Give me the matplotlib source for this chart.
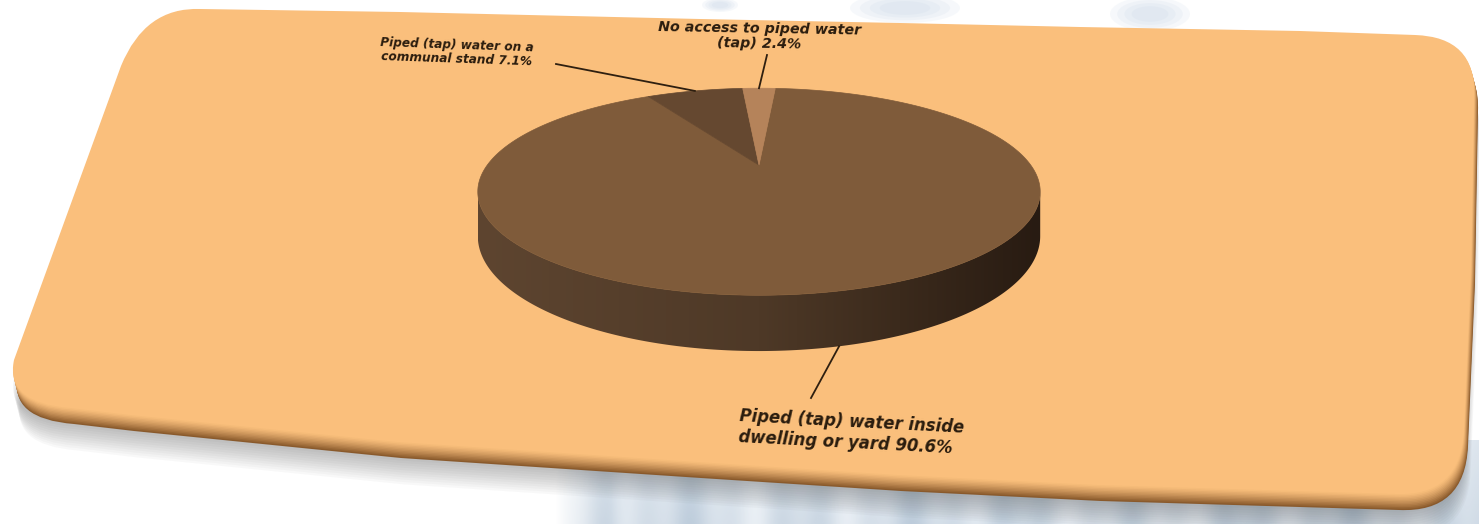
import numpy as np
import matplotlib
matplotlib.use('Agg')
import matplotlib.pyplot as plt
from matplotlib.path import Path
from matplotlib.patches import PathPatch, Polygon, Ellipse
from matplotlib.colors import to_rgb, LinearSegmentedColormap

# water access shares (%)
labels = ['Piped (tap) water inside\ndwelling or yard',
          'Piped (tap) water on a\ncommunal stand',
          'No access to piped water\n(tap)']
shares = np.array([90.6, 7.1, 2.4])
slice_colors = ['#7f5b3a', '#654830', '#b5835a']

W, Hpx = 1479, 524
fig = plt.figure(figsize=(W / 100, Hpx / 100), dpi=100)
ax = fig.add_axes([0, 0, 1, 1])
ax.set_xlim(0, W)
ax.set_ylim(Hpx, 0)
ax.axis('off')

# faint photo behind the card
xs = np.linspace(0, 1, 700)
ys = np.linspace(0, 1, 90)[:, None]
tex = (0.5 + 0.2 * np.sin(xs * 53) + 0.12 * np.sin(xs * 131 + 1.3)
       + 0.08 * np.sin(xs * 17 + 0.4)) * (0.6 + 0.4 * ys)
tex = np.clip(tex, 0, 1)
c_dark, c_light = np.array(to_rgb('#a3b8cd')), np.array(to_rgb('#eef3f8'))
rgba = np.zeros((90, 700, 4))
rgba[..., :3] = c_light + (c_dark - c_light) * tex[..., None]
rgba[..., 3] = np.clip(xs / 0.06, 0, 1) * 0.8
ax.imshow(rgba, extent=[555, W, Hpx, 440], aspect='auto', zorder=0)
for cx_, cy_, w_, h_ in [(905, 8, 110, 30), (1150, 14, 80, 34), (720, 5, 36, 14)]:
    for k in range(4):
        ax.add_patch(Ellipse((cx_, cy_), w_ * (1 - 0.18 * k), h_ * (1 - 0.18 * k),
                             color='#b9cce0', alpha=0.12, lw=0, zorder=0))

# card outline (slanted rounded rectangle)
card = [
    (Path.MOVETO, (200, 9)),
    (Path.LINETO, (400, 12)), (Path.LINETO, (700, 19)), (Path.LINETO, (900, 23)),
    (Path.LINETO, (1080, 27)), (Path.LINETO, (1300, 31)), (Path.LINETO, (1415, 35)),
    (Path.CURVE3, (1476, 37)), (Path.CURVE3, (1474, 95)),
    (Path.LINETO, (1471, 267)), (Path.LINETO, (1464, 430)),
    (Path.CURVE3, (1461, 497)), (Path.CURVE3, (1395, 494)),
    (Path.LINETO, (1097, 485)), (Path.LINETO, (897, 475)), (Path.LINETO, (697, 462)),
    (Path.LINETO, (397, 442)), (Path.LINETO, (130, 415)), (Path.LINETO, (70, 408)),
    (Path.CURVE3, (5, 403)), (Path.CURVE3, (14, 360)),
    (Path.LINETO, (121, 66)),
    (Path.CURVE3, (145, 7)), (Path.CURVE3, (200, 9)),
    (Path.CLOSEPOLY, (200, 9)),
]
codes, verts = zip(*card)
verts = np.array(verts, dtype=float)

def card_patch(dx, dy, **kw):
    return PathPatch(Path(verts + [dx, dy], codes), lw=0, **kw)

# soft drop shadow below the card
for k in range(12):
    ax.add_patch(card_patch(0.6 * k, 16 + 2.4 * k, color='#3a3a3a', alpha=0.03, zorder=1))

# bevelled lower edge, then the face
edge_dark, face = np.array(to_rgb('#8a5a2c')), np.array(to_rgb('#fabf7c'))
for f in np.linspace(1, 0, 12):
    col = face + (edge_dark - face) * f ** 1.3
    ax.add_patch(card_patch(4 * f, 16 * f, color=col, zorder=2))

# 3-D pie: a disc seen in perspective
CX, A, B, CY, D, DEPTH = 759.0, 1060.0, 1471.0, -212.0, 3.9, 0.11

def proj(theta, r=1.0, z=0.0):
    t = np.radians(theta)
    zw = D + r * np.sin(t)
    return CX + A * r * np.cos(t) / zw, CY + B * (1 + z) / zw

# visible side of the disc
t_edge = np.degrees(np.arcsin(1 / D))
ts = np.linspace(180 + t_edge, 360 - t_edge, 200)
top_x, top_y = proj(ts)
bot_x, bot_y = proj(ts[::-1], z=DEPTH)
side = Polygon(np.column_stack([np.r_[top_x, bot_x], np.r_[top_y, bot_y]]),
               closed=True, facecolor='none', lw=0, zorder=3)
ax.add_patch(side)
side_cmap = LinearSegmentedColormap.from_list(
    'side', [(0, '#5e4530'), (0.5, '#4e3927'), (0.75, '#3b2a1c'), (1, '#281b12')])
grad = np.linspace(0, 1, 256)[None, :]
im = ax.imshow(grad, cmap=side_cmap, extent=[top_x.min(), top_x.max(), bot_y.max() + 2, top_y.min() - 2],
               aspect='auto', zorder=3)
im.set_clip_path(side)

# top face wedges, clockwise from just right of 12 o'clock
widths = 360 * shares / shares.sum()
start = 90 - widths[2] / 2
mids = []
hi = start
cx0, cy0 = proj(0, r=0)
for w, col in zip(widths, slice_colors):
    lo = hi - w
    ang = np.linspace(hi, lo, max(int(w * 2), 4))
    px, py = proj(ang)
    ax.add_patch(Polygon(np.column_stack([np.r_[cx0, px], np.r_[cy0, py]]), closed=True,
                         facecolor=col, edgecolor=col, lw=0.5, zorder=4))
    mids.append((hi + lo) / 2)
    hi = lo

# labels and leader lines
txt_kw = dict(family='DejaVu Sans', style='oblique', weight='bold', color='#2a1c0e',
              zorder=6, rotation_mode='anchor')
lead_kw = dict(color='#2e1f10', lw=1.3, zorder=5)

ex, ey = proj(mids[0], z=DEPTH)
ax.plot([811, ex], [398, ey], **lead_kw)
ax.text(740, 407, f'{labels[0]} {shares[0]:.1f}%', ha='left', va='top', rotation=-3,
        fontsize=11.9, linespacing=1.2, **txt_kw)

ex, ey = proj(mids[1])
ax.plot([556, ex], [64, ey], **lead_kw)
ax.text(457, 39, f'{labels[1]} {shares[1]:.1f}%', ha='center', va='top', rotation=-2,
        fontsize=8.7, linespacing=1.1, multialignment='center', **txt_kw)

ex, ey = proj(mids[2])
ax.plot([767, ex], [55, ey], **lead_kw)
ax.text(760, 22, f'{labels[2]} {shares[2]:.1f}%', ha='center', va='top', rotation=-1,
        fontsize=10.3, linespacing=1.05, multialignment='center', **txt_kw)

fig.savefig('out.png', dpi=100, facecolor='white')
